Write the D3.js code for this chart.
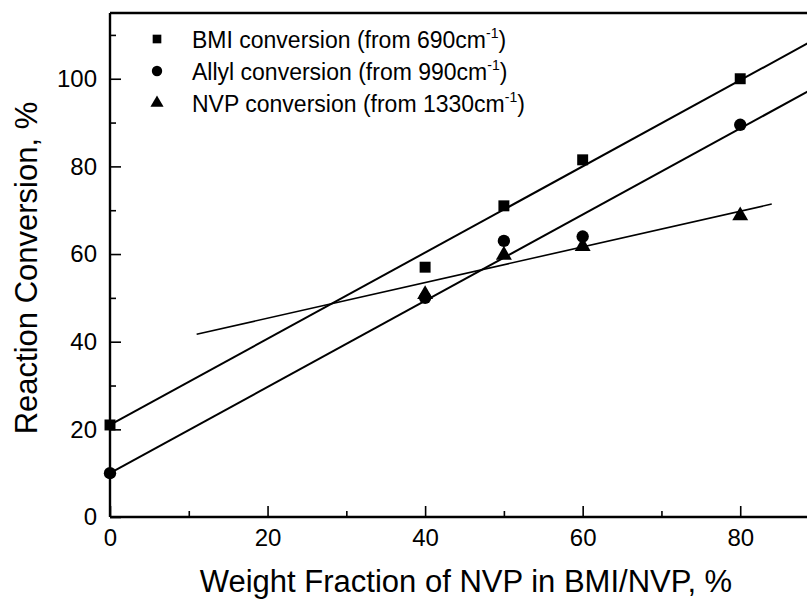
<!DOCTYPE html>
<html>
<head>
<meta charset="utf-8">
<script src="https://cdn.jsdelivr.net/npm/d3@7"></script>
<style>
  body { margin: 0; background: #fff; }
  svg text { font-family: "Liberation Sans", Arial, sans-serif; fill: #000; }
</style>
</head>
<body>
<div id="viz"></div>
<script>
// data
const bmiX = [0, 40, 50, 60, 80];
const bmiY = [21, 57, 71, 81.5, 100];
const allylX = [0, 40, 50, 60, 80];
const allylY = [10, 50, 63, 64, 89.5];
const nvpX = [40, 50, 60, 80];
const nvpY = [51, 60, 62, 69];
// fitted lines, end points [x, y]
const bmiFit = [[0, 21], [90, 109.5]];
const allylFit = [[0, 10], [90, 98.5]];
const nvpFit = [[11, 41.7], [84, 71.4]];
const xTicks = [0, 20, 40, 60, 80];
const yTicks = [0, 20, 40, 60, 80, 100];

const W = 807, H = 600;
const svg = d3.select('#viz').append('svg').attr('width', W).attr('height', H);

const x = d3.scaleLinear().domain([0, 90]).range([110, 819]);
const y = d3.scaleLinear().domain([0, 115]).range([517, 13]);

// axes (ticks pointing inward)
svg.append('g').attr('transform', `translate(0,${y(0)})`)
    .call(d3.axisBottom(x).tickValues(xTicks).tickSize(-11).tickPadding(12).tickFormat(d3.format('d')));
svg.append('g').attr('transform', `translate(0,${y(0)})`)
    .call(d3.axisBottom(x).tickValues([10, 30, 50, 70]).tickSize(-6).tickFormat(''));
svg.append('g').attr('transform', `translate(${x(0)},0)`)
    .call(d3.axisLeft(y).tickValues(yTicks).tickSize(-11).tickPadding(13));
svg.append('g').attr('transform', `translate(${x(0)},0)`)
    .call(d3.axisLeft(y).tickValues([10, 30, 50, 70, 90, 110]).tickSize(-6).tickFormat(''));

svg.selectAll('.domain').remove();
svg.selectAll('.tick line').attr('stroke', '#000').attr('stroke-width', 1.6);
svg.selectAll('.tick text').style('font-size', '24px');

// frame lines
svg.append('line').attr('x1', x(0)).attr('x2', W).attr('y1', y(0)).attr('y2', y(0))
    .attr('stroke', '#000').attr('stroke-width', 2.4);
svg.append('line').attr('x1', x(0)).attr('x2', x(0)).attr('y1', y(115)).attr('y2', y(0))
    .attr('stroke', '#000').attr('stroke-width', 2.4);
svg.append('line').attr('x1', x(0)).attr('x2', W).attr('y1', y(115)).attr('y2', y(115))
    .attr('stroke', '#000').attr('stroke-width', 2.4);

// fit lines
const line = d3.line().x(d => x(d[0])).y(d => y(d[1]));
svg.append('path').datum(bmiFit).attr('d', line).attr('fill', 'none').attr('stroke', '#000').attr('stroke-width', 2);
svg.append('path').datum(allylFit).attr('d', line).attr('fill', 'none').attr('stroke', '#000').attr('stroke-width', 2);
svg.append('path').datum(nvpFit).attr('d', line).attr('fill', 'none').attr('stroke', '#000').attr('stroke-width', 1.6);

// markers
const sq = d3.symbol().type(d3.symbolSquare).size(120);
const ci = d3.symbol().type(d3.symbolCircle).size(120);
const tr = d3.symbol().type(d3.symbolTriangle).size(110);

svg.append('g').selectAll('path').data(d3.zip(bmiX, bmiY)).join('path')
    .attr('d', sq).attr('transform', d => `translate(${x(d[0])},${y(d[1])})`);
svg.append('g').selectAll('path').data(d3.zip(allylX, allylY)).join('path')
    .attr('d', ci).attr('transform', d => `translate(${x(d[0])},${y(d[1])})`);
svg.append('g').selectAll('path').data(d3.zip(nvpX, nvpY)).join('path')
    .attr('d', tr).attr('transform', d => `translate(${x(d[0])},${y(d[1]) + 1})`);

// legend
const legend = [
    { sym: d3.symbol().type(d3.symbolSquare).size(75), txt: 'BMI conversion (from 690cm' },
    { sym: d3.symbol().type(d3.symbolCircle).size(85), txt: 'Allyl conversion (from 990cm' },
    { sym: d3.symbol().type(d3.symbolTriangle).size(75), txt: 'NVP conversion (from 1330cm' }
];
let lg = svg.append('g').attr('transform', 'translate(157,39)');
lg.selectAll('path').data(legend).join('path')
    .attr('d', d => d.sym()).attr('transform', (d, i) => `translate(0,${i * 32})`);
let lt = lg.selectAll('text').data(legend).join('text')
    .attr('x', 35).attr('y', (d, i) => i * 32 + 9)
    .style('font-size', '23px');
lt.append('tspan').text(d => d.txt);
lt.append('tspan').text('-1').attr('dy', -10).style('font-size', '14px');
lt.append('tspan').text(')').attr('dy', 10);

// axis titles
svg.append('text').attr('x', 466).attr('y', 592).attr('text-anchor', 'middle')
    .style('font-size', '31px').text('Weight Fraction of NVP in BMI/NVP, %');
svg.append('text').attr('transform', 'translate(37,268) rotate(-90)').attr('text-anchor', 'middle')
    .style('font-size', '31px').text('Reaction Conversion, %');
</script>
</body>
</html>
